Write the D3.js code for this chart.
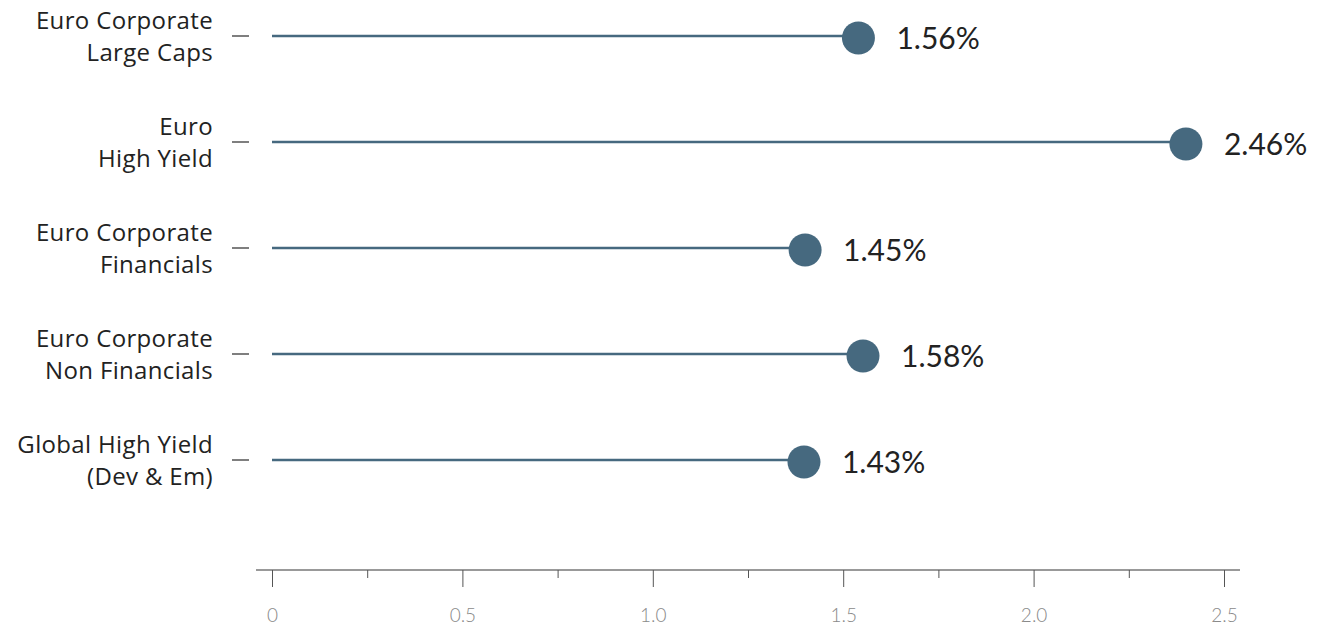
<!DOCTYPE html>
<html><head><meta charset="utf-8">
<script src="https://cdn.jsdelivr.net/npm/d3@7"></script>
<style>body{margin:0;background:#fff}svg{display:block}</style>
</head><body>
<svg id="c" width="1320" height="628"></svg>
<script>
const categories = [["Euro Corporate","Large Caps"],["Euro","High Yield"],["Euro Corporate","Financials"],["Euro Corporate","Non Financials"],["Global High Yield","(Dev & Em)"]];
const plotValues = [1.54, 2.40, 1.40, 1.552, 1.397];
const valueLabels = ["1.56%","2.46%","1.45%","1.58%","1.43%"];
const majorTicks = [0,0.5,1.0,1.5,2.0,2.5];
const majorTickLabels = ["0","0.5","1.0","1.5","2.0","2.5"];
const minorTicks = [0.25,0.75,1.25,1.75,2.25];

const svg = d3.select("#c");
const x = d3.scaleLinear().domain([0,2.5]).range([272,1224]);
const y = d3.scaleBand().domain(d3.range(categories.length)).range([-16,514]);
const yc = i => y(i) + y.bandwidth()/2;
const color = "#46697f";
const font = "Lato, 'Open Sans', sans-serif";
const catFont = "'Open Sans', Lato, sans-serif";

// x axis
const axisY = 570;
svg.append("line").attr("x1",256).attr("x2",1240).attr("y1",axisY).attr("y2",axisY)
  .attr("stroke","#777").attr("stroke-width",1.5);
const xa = svg.append("g").attr("transform",`translate(0,${axisY})`)
  .call(d3.axisBottom(x).tickValues(majorTicks).tickSize(17).tickFormat((d,i)=>majorTickLabels[i]).tickPadding(22));
xa.select(".domain").remove();
xa.selectAll(".tick line").attr("stroke","#555").attr("stroke-width",1);
xa.selectAll(".tick text").attr("fill","#8a8a8a").attr("font-family",font).attr("font-weight",300).attr("font-size",19);
const xm = svg.append("g").attr("transform",`translate(0,${axisY})`)
  .call(d3.axisBottom(x).tickValues(minorTicks).tickSize(8).tickFormat(""));
xm.select(".domain").remove();
xm.selectAll(".tick line").attr("stroke","#555").attr("stroke-width",1);

// y category ticks and labels
const rows = svg.append("g");
categories.forEach((c,i)=>{
  const cy = yc(i);
  rows.append("line").attr("x1",232).attr("x2",249).attr("y1",cy-1).attr("y2",cy-1)
    .attr("stroke","#555").attr("stroke-width",1.5);
  const t = rows.append("text").attr("text-anchor","end").attr("font-family",catFont)
    .attr("font-size",24).attr("letter-spacing",0.35).attr("fill","#222");
  t.append("tspan").attr("x",213).attr("y",cy-8).text(c[0]);
  t.append("tspan").attr("x",213).attr("y",cy+24).text(c[1]);
});

// lollipops
const g = svg.append("g");
g.selectAll("line.stem").data(plotValues).join("line").attr("class","stem")
  .attr("x1",x(0)).attr("x2",d=>x(d)).attr("y1",(d,i)=>yc(i)-1).attr("y2",(d,i)=>yc(i)-1)
  .attr("stroke",color).attr("stroke-width",2.5);
g.selectAll("circle").data(plotValues).join("circle")
  .attr("cx",d=>x(d)).attr("cy",(d,i)=>yc(i)+1).attr("r",16.5).attr("fill",color);
g.selectAll("text.val").data(plotValues).join("text").attr("class","val")
  .attr("x",d=>x(d)+38).attr("y",(d,i)=>yc(i)+12)
  .attr("font-family",font).attr("font-size",30).attr("fill","#222")
  .text((d,i)=>valueLabels[i]);
</script>
</body></html>
